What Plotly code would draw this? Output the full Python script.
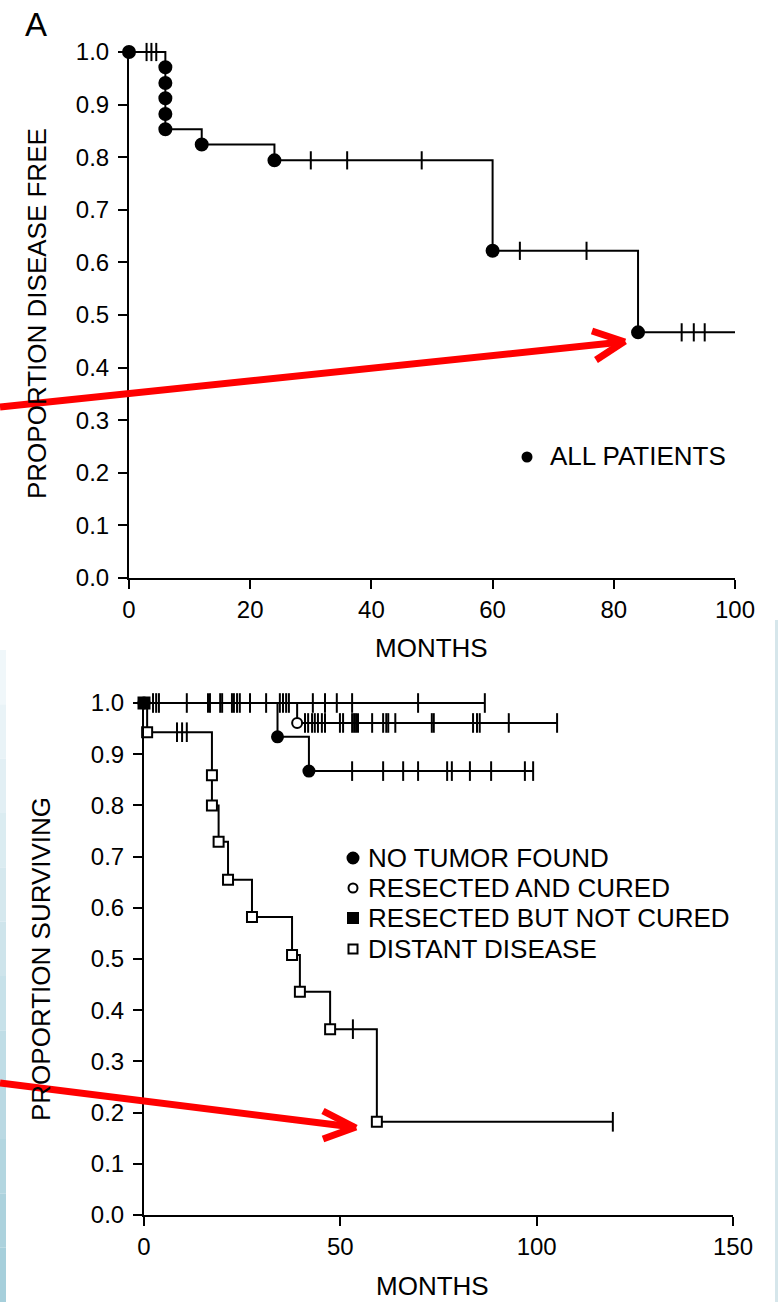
import plotly.graph_objects as go

W, H = 778, 1302
FONT = "Liberation Sans, Arial, Helvetica, sans-serif"

# ---------------- DATA ----------------
# Panel A: all patients, proportion disease free
a_event_months = [0, 6, 6, 6, 6, 6, 12, 24, 60, 84]
a_event_surv = [1.0, 0.971, 0.941, 0.912, 0.882, 0.853, 0.824, 0.794, 0.622, 0.467]
a_censor_months = [2.9, 3.7, 4.5, 30, 36, 48.3, 64.5, 75.5, 91.2, 93.2, 95]
a_followup_end = 100

# Panel B: proportion surviving by group
nt_event_months = [0, 34, 42]
nt_event_surv = [1.0, 0.934, 0.867]
nt_censor_months = [2.3, 3.1, 3.8, 10.9, 16.3, 16.8, 19.4, 19.9, 22.4, 22.9, 23.7, 24.4, 27, 31.1,
                    53, 60.9, 66, 69.8, 77.2, 78.4, 83, 88.4, 97, 99.1]
nt_followup_end = 99.1

rc_event_months = [0, 39]
rc_event_surv = [1.0, 0.961]
rc_censor_months = [34.6, 35.4, 36.2, 36.9, 41, 41.8, 42.8, 43.5, 44.3, 45.3, 46.1, 49.9, 50.7,
                    53, 53.5, 54, 54.5, 58.1, 60.9, 61.7, 62.2, 64, 73.3, 73.8, 83.8, 84.8, 85.5,
                    92.9, 105.2]
rc_followup_end = 105.2

rnc_event_months = [0]
rnc_event_surv = [1.0]
rnc_censor_months = [43, 46.1, 49.1, 53, 69.8, 86.8]
rnc_followup_end = 86.8

dd_event_months = [0, 0.8, 17.3, 17.3, 19, 21.4, 27.5, 37.7, 39.7, 47.4, 59.3]
dd_event_surv = [1.0, 0.943, 0.859, 0.80, 0.729, 0.655, 0.582, 0.508, 0.436, 0.363, 0.182]
dd_censor_months = [8.4, 9.7, 10.9, 53.2, 119.4]
dd_followup_end = 119.4

a_ticks_x = [0, 20, 40, 60, 80, 100]
b_ticks_x = [0, 50, 100, 150]
y_ticks = [round(i * 0.1, 1) for i in range(11)]

group_labels = ["NO TUMOR FOUND", "RESECTED AND CURED", "RESECTED BUT NOT CURED", "DISTANT DISEASE"]


# ---------------- helpers ----------------
def km_line(ev_t, ev_s, end):
    xs, ys = [], []
    for t, s in zip(ev_t, ev_s):
        if xs and xs[-1] == t:
            ys[-1] = min(ys[-1], s)
        else:
            xs.append(t)
            ys.append(s)
    xs.append(end)
    ys.append(ys[-1])
    return xs, ys


def km_at(t, ev_t, ev_s):
    v = 1.0
    for et, es in zip(ev_t, ev_s):
        if et <= t:
            v = min(v, es)
    return v


# pixel layout of the two plot areas
A_X0, A_X1, A_XMAX = 129, 735, 100
A_Y0, A_PER1 = 578, 526
B_X0, B_X1, B_XMAX = 144, 733, 150
B_Y0, B_PER1 = 1215, 512
YTOP = 1.006


def px(x):
    return x / W


def py(y):
    return 1 - y / H


fig = go.Figure()

LW = 2


def add_group(ev_t, ev_s, cens, end, xa, ya, sym, msize, fill, tick_size):
    lx, ly = km_line(ev_t, ev_s, end)
    fig.add_trace(go.Scatter(x=lx, y=ly, mode="lines", line=dict(shape="hv", color="black", width=LW),
                             xaxis=xa, yaxis=ya, showlegend=False, hoverinfo="skip", cliponaxis=False))
    cy = [km_at(t, ev_t, ev_s) for t in cens]
    fig.add_trace(go.Scatter(x=cens, y=cy, mode="markers", xaxis=xa, yaxis=ya, showlegend=False,
                             cliponaxis=False, hoverinfo="skip",
                             marker=dict(symbol="line-ns", size=tick_size,
                                         line=dict(color="black", width=2))))
    return (ev_t, ev_s, sym, msize, fill, xa, ya)


def add_events(g):
    ev_t, ev_s, sym, msize, fill, xa, ya = g
    fig.add_trace(go.Scatter(x=ev_t, y=ev_s, mode="markers", xaxis=xa, yaxis=ya, showlegend=False,
                             cliponaxis=False, hoverinfo="skip",
                             marker=dict(symbol=sym, size=msize, color=fill,
                                         line=dict(color="black", width=2))))


# Panel A
ga = add_group(a_event_months, a_event_surv, a_censor_months, a_followup_end, "x", "y",
               "circle", 12, "black", 13)
add_events(ga)

# Panel B
g_nt = add_group(nt_event_months, nt_event_surv, nt_censor_months, nt_followup_end, "x2", "y2",
                 "circle", 11, "black", 14)
g_rc = add_group(rc_event_months, rc_event_surv, rc_censor_months, rc_followup_end, "x2", "y2",
                 "circle", 10, "white", 14)
g_rnc = add_group(rnc_event_months, rnc_event_surv, rnc_censor_months, rnc_followup_end, "x2", "y2",
                  "square", 11, "black", 14)
g_dd = add_group(dd_event_months, dd_event_surv, dd_censor_months, dd_followup_end, "x2", "y2",
                 "square", 10, "white", 14)
for g in (g_dd, g_rc, g_nt, g_rnc):
    add_events(g)

# ---------------- legends (keys + text) ----------------
def a_data(xp, yp):
    return (xp - A_X0) / (A_X1 - A_X0) * A_XMAX, (A_Y0 - yp) / A_PER1


def b_data(xp, yp):
    return (xp - B_X0) / (B_X1 - B_X0) * B_XMAX, (B_Y0 - yp) / B_PER1


kx, ky = a_data(527, 457)
fig.add_trace(go.Scatter(x=[kx], y=[ky], mode="markers", xaxis="x", yaxis="y", showlegend=False,
                         hoverinfo="skip", marker=dict(symbol="circle", size=11, color="black")))

LEG_B_ROWS = [858, 888, 918, 949]
leg_styles = [("circle", 11, "black"), ("circle", 9, "white"), ("square", 10, "black"), ("square", 9, "white")]
for yrow, (sym, sz, fc) in zip(LEG_B_ROWS, leg_styles):
    kx, ky = b_data(353, yrow)
    fig.add_trace(go.Scatter(x=[kx], y=[ky], mode="markers", xaxis="x2", yaxis="y2", showlegend=False,
                             hoverinfo="skip",
                             marker=dict(symbol=sym, size=sz, color=fc, line=dict(color="black", width=2))))

annotations = []


def text(t, x, y, size, xanchor="center", angle=0):
    annotations.append(dict(text=t, x=px(x), y=py(y), xref="paper", yref="paper", showarrow=False,
                            xanchor=xanchor, yanchor="middle", textangle=angle,
                            font=dict(family=FONT, size=size, color="black")))


text("A", 36, 24, 33)
text("PROPORTION DISEASE FREE", 37, 314, 26, angle=-90)
text("MONTHS", 431, 648, 26)
text("ALL PATIENTS", 548, 456, 26, xanchor="left")
text("PROPORTION SURVIVING", 41, 959, 26, angle=-90)
text("MONTHS", 432, 1286, 26)
for yrow, lab in zip(LEG_B_ROWS, group_labels):
    text(lab, 366, yrow, 26, xanchor="left")

# ---------------- shapes: background edges and red arrows ----------------
shapes = []
n_band = 12
for i in range(n_band):
    y0 = 650 + i * (H - 650) / n_band
    y1 = 650 + (i + 1) * (H - 650) / n_band
    f = i / (n_band - 1)
    r = int(240 + (166 - 240) * f)
    gch = int(247 + (207 - 247) * f)
    b = int(250 + (219 - 250) * f)
    shapes.append(dict(type="rect", xref="paper", yref="paper", x0=0, x1=px(6), y0=py(y1), y1=py(y0),
                       fillcolor=f"rgb({r},{gch},{b})", line=dict(width=0), layer="below"))
shapes.append(dict(type="rect", xref="paper", yref="paper", x0=px(775), x1=1, y0=0, y1=py(620),
                   fillcolor="rgb(214,230,235)", line=dict(width=0), layer="below"))

RED = "rgb(255,0,0)"


def seg(x0, y0, x1, y1):
    shapes.append(dict(type="line", xref="paper", yref="paper", x0=px(x0), y0=py(y0), x1=px(x1), y1=py(y1),
                       line=dict(color=RED, width=7), layer="above"))


# top arrow
seg(0, 407, 622, 342)
seg(592, 331, 625, 342)
seg(596, 360, 625, 341)
# bottom arrow
seg(0, 1083, 353, 1127)
seg(323, 1111, 356, 1128)
seg(323, 1139, 356, 1127)

# ---------------- axes ----------------
axis_common = dict(showgrid=False, zeroline=False, showline=True, linecolor="black", linewidth=2,
                   ticks="outside", ticklen=9, tickwidth=2, tickcolor="black", automargin=False,
                   tickfont=dict(family=FONT, size=24, color="black"), fixedrange=True)

fig.update_layout(
    template="none",
    width=W, height=H,
    margin=dict(l=0, r=0, t=0, b=0, pad=0, autoexpand=False),
    paper_bgcolor="white", plot_bgcolor="rgba(0,0,0,0)",
    showlegend=False,
    xaxis=dict(domain=[px(A_X0), px(A_X1)], range=[0, A_XMAX], tickvals=a_ticks_x, anchor="y",
               ticklabelstandoff=0, **axis_common),
    yaxis=dict(domain=[py(A_Y0), py(A_Y0 - YTOP * A_PER1)], range=[0, YTOP], tickvals=y_ticks,
               tickformat=".1f", anchor="x", ticklabelstandoff=4, **axis_common),
    xaxis2=dict(domain=[px(B_X0), px(B_X1)], range=[0, B_XMAX], tickvals=b_ticks_x, anchor="y2",
                ticklabelstandoff=0, **axis_common),
    yaxis2=dict(domain=[py(B_Y0), py(B_Y0 - YTOP * B_PER1)], range=[0, YTOP], tickvals=y_ticks,
                tickformat=".1f", anchor="x2", ticklabelstandoff=4, **axis_common),
    annotations=annotations,
    shapes=shapes,
)

fig.write_html("out.html", config={"displayModeBar": False},
               post_script="document.body.style.margin='0px';document.body.style.overflow='hidden';")
